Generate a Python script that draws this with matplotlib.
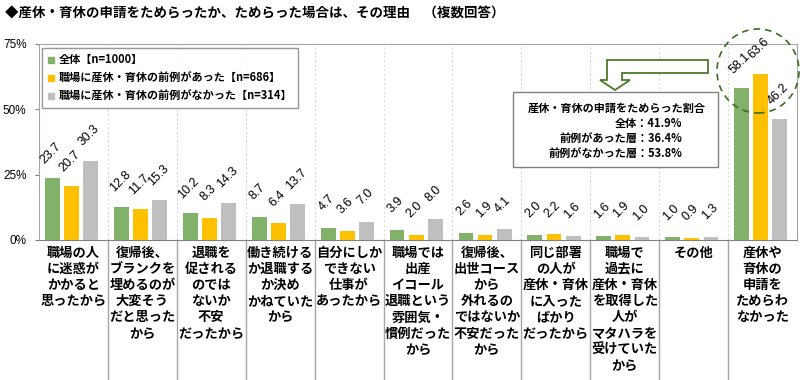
import matplotlib
matplotlib.use("Agg")
import matplotlib.pyplot as plt
from matplotlib.patches import Rectangle, Polygon, Ellipse
from matplotlib.lines import Line2D
import numpy as np

plt.rcParams['font.family'] = ['Noto Sans CJK JP', 'DejaVu Sans']

# ---------------- data ----------------
categories = [
    "職場の人\nに迷惑が\nかかると\n思ったから",
    "復帰後、\nブランクを\n埋めるのが\n大変そう\nだと思った\nから",
    "退職を\n促される\nのでは\nないか\n不安\nだったから",
    "働き続ける\nか退職する\nか決め\nかねていた\nから",
    "自分にしか\nできない\n仕事が\nあったから",
    "職場では\n出産\nイコール\n退職という\n雰囲気・\n慣例だった\nから",
    "復帰後、\n出世コース\nから\n外れるの\nではないか\n不安だった\nから",
    "同じ部署\nの人が\n産休・育休\nに入った\nばかり\nだったから",
    "職場で\n過去に\n産休・育休\nを取得した\n人が\nマタハラを\n受けていた\nから",
    "その他",
    "産休や\n育休の\n申請を\nためらわ\nなかった",
]
series_names = ["全体【n=1000】",
                "職場に産休・育休の前例があった【n=686】",
                "職場に産休・育休の前例がなかった【n=314】"]
all_vals = [23.7, 12.8, 10.2, 8.7, 4.7, 3.9, 2.6, 2.0, 1.6, 1.0, 58.1]
with_vals = [20.7, 11.7, 8.3, 6.4, 3.6, 2.0, 1.9, 2.2, 1.9, 0.9, 63.6]
without_vals = [30.3, 15.3, 14.3, 13.7, 7.0, 8.0, 4.1, 1.6, 1.0, 1.3, 46.2]
yticks = [0, 25, 50, 75]
ytick_labels = ["0%", "25%", "50%", "75%"]
title = "◆産休・育休の申請をためらったか、ためらった場合は、その理由　（複数回答）"
box_title = "産休・育休の申請をためらった割合"
box_lines = ["全体：41.9%", "前例があった層：36.4%", "前例がなかった層：53.8%"]

colors = ["#82B26A", "#FFC000", "#BFBFBF"]

# ---------------- figure ----------------
W, H = 800, 380
fig = plt.figure(figsize=(8, 3.8), dpi=100)
def fx(x): return x / W
def fy(y): return 1 - y / H

ax = fig.add_axes([fx(39), fy(240), fx(797) - fx(39), fy(44) - fy(240)])
n = len(categories)
ax.set_xlim(0, n)
ax.set_ylim(0, 75)

series = [all_vals, with_vals, without_vals]
bw = 0.215
offsets = [0.196, 0.473, 0.751]
idx = np.arange(n)
for k, (vals, col) in enumerate(zip(series, colors)):
    xs = idx + offsets[k]
    ax.bar(xs, vals, width=bw, color=col, edgecolor='none', zorder=3)
    for x, v in zip(xs, vals):
        ax.annotate(f"{v:.1f}", (x, v), xytext=(-1, 18), textcoords='offset points',
                    ha='center', va='center', rotation=45, rotation_mode='anchor',
                    fontsize=9, family=['Liberation Sans', 'DejaVu Sans'], zorder=6)

# separators
for i in range(1, n):
    ax.axvline(i, color='#D9D9D9', lw=0.8, ls=(0, (2, 2)), zorder=1)
    ax.add_line(Line2D([i, i], [0, -0.72], transform=ax.get_xaxis_transform(),
                       color='#A6A6A6', lw=1, clip_on=False))

for s in ['left', 'top', 'right']:
    ax.spines[s].set_color('#A6A6A6')
ax.spines['bottom'].set_color('#808080')
ax.set_yticks(yticks)
ax.set_yticklabels(ytick_labels, family=['Liberation Sans', 'DejaVu Sans'], fontsize=8.5)
ax.tick_params(axis='y', length=3, color='#808080', pad=6)
ax.set_xticks(idx + 0.5)
ax.set_xticklabels(categories, fontsize=9.5, fontweight='bold', linespacing=1.2, va='top')
ax.tick_params(axis='x', length=0, pad=4)

# legend
handles = [Line2D([], [], marker='s', ls='none', color=c, markersize=4) for c in colors]
leg = ax.legend(handles, series_names, loc='upper left', bbox_to_anchor=(0.004, 0.98),
                borderaxespad=0, handlelength=0.6, handletextpad=0.4, labelspacing=0.45,
                prop={'weight': 'bold', 'size': 8}, frameon=True, fancybox=False,
                borderpad=0.5)
leg.get_frame().set_edgecolor('#7F7F7F')
leg.get_frame().set_linewidth(1.0)
leg.set_zorder(7)

# title
fig.text(fx(5), fy(14), title, fontsize=9.7, fontweight='bold', va='center', ha='left')

# annotation box
fig.patches.append(Rectangle((fx(513), fy(167)), fx(718) - fx(513), fy(92) - fy(167),
                             transform=fig.transFigure, facecolor='white',
                             edgecolor='#808080', lw=1, zorder=8))
fig.text(fx(617), fy(108), box_title, fontsize=8, fontweight='bold', ha='center', va='center', zorder=9)
for yy, t in zip([123, 138, 153], box_lines):
    fig.text(fx(682), fy(yy), t, fontsize=8, fontweight='bold', ha='right', va='center', zorder=9)

# bent arrow
arrow_px = [(708, 60), (607, 60), (607, 80), (600, 80), (615, 90), (630, 80),
            (622, 80), (622, 73), (708, 73)]
fig.patches.append(Polygon([(fx(x), fy(y)) for x, y in arrow_px], closed=True,
                           transform=fig.transFigure, facecolor='white',
                           edgecolor='#4E7A27', lw=1.3, zorder=8))

# dashed circle
fig.patches.append(Ellipse((fx(758), fy(71)), fx(82), 84 / H, transform=fig.transFigure,
                           facecolor='none', edgecolor='#3B6E22', lw=1.2,
                           ls=(0, (4, 3)), zorder=8))

fig.savefig("out.png", dpi=100)
